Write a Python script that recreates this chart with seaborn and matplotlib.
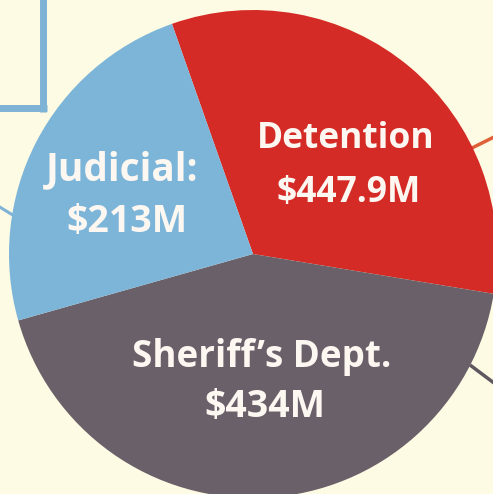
import matplotlib
matplotlib.use("Agg")
import matplotlib.pyplot as plt
import seaborn as sns

# ---- data ----
categories = ["Detention", "Sheriff\u2019s Dept.", "Judicial"]
amounts_musd = [447.9, 434, 213]          # printed amounts ($M)
drawn_share_pct = [33.0, 43.0, 24.0]      # wedge sizes as drawn in the graphic
colors = ["#d42b26", "#6a6069", "#7db5d9"]
bg = "#fdfbe4"

sns.set_theme(style="white")
plt.rcParams["font.family"] = ["Open Sans", "DejaVu Sans"]

W, H = 493, 494
CX, CY, R = 253, 254, 244
fig = plt.figure(figsize=(W / 100, H / 100), dpi=100, facecolor=bg)
ax = fig.add_axes([0, 0, 1, 1])
ax.set_facecolor(bg)

def P(px, py):
    return ((px - CX) / R, (CY - py) / R)

ax.pie(drawn_share_pct, colors=colors, startangle=109.4, counterclock=False,
       radius=1.0, center=(0, 0), wedgeprops=dict(linewidth=0))

ax.set_xlim(P(0, 0)[0], P(W, 0)[0])
ax.set_ylim(P(0, H)[1], P(0, 0)[1])
ax.set_aspect("equal")
ax.axis("off")

# decorative lines from the page layout
def seg(p0, p1, color, lw):
    a, b = P(*p0), P(*p1)
    ax.plot([a[0], b[0]], [a[1], b[1]], color=color, lw=lw,
            solid_capstyle="butt", zorder=0, clip_on=False)

seg((43.5, -5), (43.5, 112), "#7fb3d6", 5.0)
seg((-5, 108.5), (47, 108.5), "#7fb3d6", 5.0)
seg((-2, 206), (16, 217), "#7fb3d6", 2.2)
seg((468, 150), (498, 135), "#e0603a", 2.5)
seg((470, 365), (498, 386), "#5f5860", 2.5)

tc = "#fdf7f2"
def lab(txt, px, py, size, weight="bold"):
    x, y = P(px, py)
    ax.text(x, y, txt, ha="center", va="baseline", color=tc,
            fontsize=size, fontweight=weight)

lab("Detention", 346, 148, 25.5)
lab(f"${amounts_musd[0]}M", 349, 202, 25.5)
lab("Sheriff\u2019s Dept.", 262, 367, 26.5)
lab(f"${amounts_musd[1]}M", 265, 417, 27)
lab("Judicial:", 122, 180, 28)
lab(f"${amounts_musd[2]}M", 127, 232, 27)

fig.savefig("out.png", dpi=100, facecolor=bg)
